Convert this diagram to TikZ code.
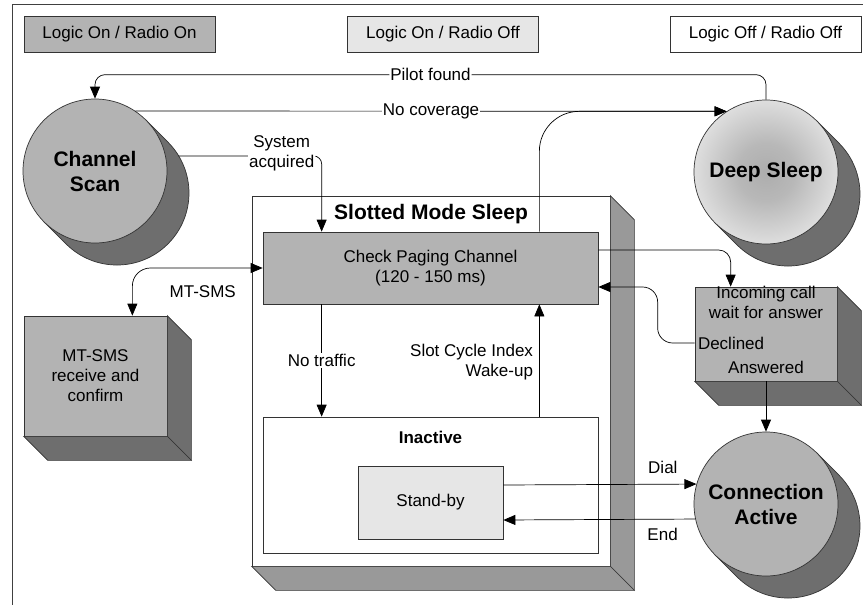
\documentclass[tikz,border=0pt]{standalone}
\usepackage{fontspec}
\setmainfont{Liberation Sans}
\usetikzlibrary{arrows.meta}
\definecolor{midg}{HTML}{B3B3B3}
\definecolor{darkg}{HTML}{6E6E6E}
\definecolor{lightg}{HTML}{E6E6E6}
\definecolor{slotg}{HTML}{999999}
\definecolor{dsin}{HTML}{ADADAD}
\definecolor{dsa}{HTML}{B8B8B8}
\definecolor{dsmid}{HTML}{DEDEDE}
\definecolor{dsout}{HTML}{FFFFFF}
\pgfdeclareradialshading{deepsl}{\pgfpoint{0bp}{0bp}}{color(0bp)=(dsin); color(10bp)=(dsa); color(25bp)=(dsmid); color(40bp)=(dsout); color(50bp)=(dsout)}
\newcommand\cylshade[2]{\filldraw[#2] (#1) ++(50.9,-50.9) -- ++(22,22) arc[start angle=45,end angle=-135,radius=72pt] -- ++(-22,-22) -- cycle;}
\newcommand\boxfaces[3]{%
  \filldraw[fill=#3, draw=black!80] (#1.north east) -- ++(#2,#2) -- ([shift={(#2,#2)}]#1.south east) -- (#1.south east) -- cycle;
  \filldraw[fill=#3, draw=black!80] (#1.south west) -- (#1.south east) -- ++(#2,#2) -- ([shift={(#2,#2)}]#1.south west) -- cycle;}
\begin{document}
\begin{tikzpicture}[x=1pt,y=-1pt,
  font=\fontsize{17}{20}\selectfont,
  line width=0.7pt,
  legend/.style={draw=black!80, minimum width=191pt, minimum height=36pt, inner sep=0pt},
  state/.style={circle, draw=black!80, minimum size=144pt, inner sep=0pt, align=center,
    font=\bfseries\fontsize{21}{25}\selectfont},
  boxf/.style={draw=black!80, inner sep=0pt, align=center},
  lbl/.style={inner sep=1pt, align=center},
  arr/.style={-{Triangle[length=12pt,width=10pt]}},
  darr/.style={{Triangle[length=12pt,width=10pt]}-{Triangle[length=12pt,width=10pt]}}]
\useasboundingbox (0,0) rectangle (863,605);
% frame
\draw[black!75, line width=1pt] (863,4) -- (12,4) -- (12,605);
% legend
\node[legend, fill=midg] (l1) at (119.5,34) {Logic On / Radio On};
\node[legend, fill=lightg] (l2) at (443,34) {Logic On / Radio Off};
\node[legend, fill=white] (l3) at (765.5,34) {Logic Off / Radio Off};
% slotted mode sleep
\node[boxf, fill=white, minimum width=358pt, minimum height=370pt] (sms) at (431,381) {};
\boxfaces{sms}{24}{slotg}
\node[font=\bfseries\fontsize{21}{25}\selectfont, inner sep=1pt] (smt) at ([yshift=-18pt]sms.north) {Slotted Mode Sleep};
\node[boxf, fill=midg, minimum width=335pt, minimum height=72pt] (cp) at (430.5,268) {Check Paging Channel\\(120 - 150 ms)};
\node[boxf, fill=white, minimum width=335pt, minimum height=136pt] (in) at (430.5,485) {};
\node[lbl, font=\bfseries\fontsize{17}{20}\selectfont] (int) at ([yshift=-21pt]in.north) {Inactive};
\node[boxf, fill=lightg, minimum width=145pt, minimum height=73pt] (sb) at (430.5,502.5) {Stand-by};
% MT-SMS box
\node[boxf, fill=midg, minimum width=143pt, minimum height=120pt] (ms) at (95.5,376) {MT-SMS\\receive and\\confirm};
\boxfaces{ms}{24}{darkg}
% incoming call box
\node[boxf, fill=midg, minimum width=142pt, minimum height=94pt] (ic) at (766,334) {};
\boxfaces{ic}{24}{darkg}
\node[lbl] (ict) at ([yshift=-15.5pt]ic.north) {Incoming call\\wait for answer};
\node[lbl, anchor=west] (icd) at ([xshift=2pt,yshift=-9pt]ic.west) {Declined};
\node[lbl] (ica) at ([yshift=14pt]ic.south) {Answered};
% circles
\coordinate (csc) at (95,171);
\cylshade{csc}{fill=darkg, draw=black!80}
\node[state, fill=midg] (cs) at (csc) {Channel\\Scan};
\coordinate (dsc) at (766,172);
\cylshade{dsc}{fill=darkg, draw=black!80}
\node[state, shading=deepsl] (ds) at (dsc) {Deep Sleep};
\coordinate (cac) at (766,504);
\cylshade{cac}{fill=darkg, draw=black!80}
\node[state, fill=midg] (ca) at (cac) {Connection\\Active};
% connectors
\draw[arr, rounded corners=10pt] (ds.north) -- ++(0,-25) -| node[lbl, fill=white, pos=0.25] {Pilot found} (cs.north);
\draw[arr] (cs.56.4) -- node[lbl, fill=white] {No coverage} (ds.123.6);
\draw[arr, rounded corners=40pt] ([xshift=-59pt]cp.north east) |- (ds.123.6);
\draw[arr, rounded corners=8pt, shorten <=12.8pt] (cs.12.8) -| node[lbl, fill=white, pos=0.372, yshift=3pt] {System\\acquired} ([xshift=59pt]cp.north west);
\draw[arr, rounded corners=12pt] ([yshift=18pt]cp.east) -| ([xshift=36pt]ic.north west);
\draw[arr, rounded corners=15pt] ([yshift=-9pt]ic.west) -- ++(-37,0) |- ([yshift=-19pt]cp.east);
\draw[arr] (ic.south) -- (ca.north);
\draw[darr, rounded corners=18pt] ([xshift=-35pt]ms.north east) |- node[lbl, pos=0.77, below=16pt] {MT-SMS} (cp.west);
\draw[arr] ([xshift=59pt]cp.south west) -- node[lbl, fill=white] {No traffic} ([xshift=59pt]in.north west);
\draw[arr] ([xshift=-59pt]in.north east) -- node[lbl, left=5pt, yshift=-2pt, align=right] {Slot Cycle Index\\Wake-up} ([xshift=-59pt]cp.south east);
\draw[arr] ([yshift=17.5pt]sb.east) -- node[lbl, pos=0.826, above=9pt] {Dial} (ca.164.7);
\draw[arr] (ca.192.8) -- node[lbl, pos=0.17, below=8pt] {End} ([yshift=-17.5pt]sb.east);
\end{tikzpicture}
\end{document}
